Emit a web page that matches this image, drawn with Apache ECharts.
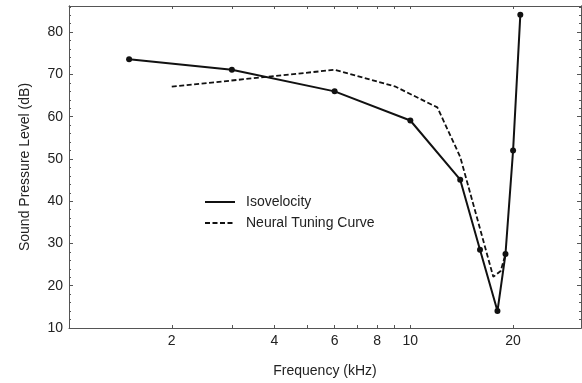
<!DOCTYPE html>
<html>
<head>
<meta charset="utf-8">
<script src="https://cdn.jsdelivr.net/npm/echarts@6/dist/echarts.min.js"></script>
<style>html,body{margin:0;padding:0;background:#fff}#c{width:582px;height:383px}</style>
</head>
<body>
<div id="c"></div>
<script>
// Data (frequency in kHz, level in dB)
const isoFreq = [1.5, 3.0, 6.0, 10.0, 14.0, 16.0, 18.0, 19.0, 20.0, 21.0];
const isoLevel = [73.6, 71.1, 66.0, 59.1, 45.1, 28.5, 14.0, 27.5, 52.0, 84.1];
const ntcFreq = [2.0, 6.0, 9.0, 12.0, 14.0, 17.5, 18.4, 19.0];
const ntcLevel = [67.1, 71.1, 67.2, 62.2, 50.5, 22.1, 23.5, 27.5];
const xLabelValues = [2, 4, 6, 8, 10, 20];
const xTickValues = [2, 3, 4, 5, 6, 7, 8, 9, 10, 20];
const yLabelValues = [10, 20, 30, 40, 50, 60, 70, 80];
const yMinorValues = [12,14,16,18,22,24,26,28,32,34,36,38,42,44,46,48,52,54,56,58,62,64,66,68,72,74,76,78,82,84,86];

const L = v => Math.log10(v);
const font = 'Liberation Sans, Arial, Helvetica, sans-serif';
const axisCol = '#555';

const xMin = 0, xMax = 1.5, yMin = 10, yMax = 86.2;

function xAxisDef(pos, show) {
  return {
    type: 'value', position: pos, min: xMin, max: xMax,
    axisLine: { show: true, onZero: false, lineStyle: { color: axisCol, width: 1 } },
    axisTick: { show: true, inside: true, length: 3, customValues: xTickValues.map(L), lineStyle: { color: axisCol } },
    axisLabel: { show: show, customValues: xLabelValues.map(L), margin: 6,
      formatter: v => String(Math.round(Math.pow(10, v))),
      color: '#222', fontSize: 14, fontFamily: font },
    splitLine: { show: false },
    name: show ? 'Frequency (kHz)' : '', nameLocation: 'middle', nameGap: 36,
    nameTextStyle: { color: '#222', fontSize: 14, fontFamily: font }
  };
}
function yAxisDef(pos, major, show) {
  return {
    type: 'value', position: pos, min: yMin, max: yMax,
    axisLine: { show: true, onZero: false, lineStyle: { color: axisCol, width: 1 } },
    axisTick: { show: true, inside: true, length: major ? 4 : 2,
      customValues: major ? yLabelValues : yMinorValues, lineStyle: { color: axisCol } },
    axisLabel: { show: show, customValues: yLabelValues, margin: 6,
      color: '#222', fontSize: 14, fontFamily: font },
    splitLine: { show: false },
    name: show ? 'Sound Pressure Level (dB)' : '', nameLocation: 'middle', nameGap: 37,
    nameTextStyle: { color: '#222', fontSize: 14, fontFamily: font }
  };
}

const chart = echarts.init(document.getElementById('c'), null, { renderer: 'canvas' });
chart.setOption({
  animation: false,
  backgroundColor: '#fff',
  grid: { left: 69, right: 1, top: 6, bottom: 55, containLabel: false },
  xAxis: [xAxisDef('bottom', true), xAxisDef('top', false)],
  yAxis: [yAxisDef('left', true, true), yAxisDef('left', false, false),
          yAxisDef('right', true, false), yAxisDef('right', false, false)],
  legend: {
    orient: 'vertical', left: 204, top: 195, padding: 0,
    itemWidth: 30, itemHeight: 14, itemGap: 7,
    textStyle: { color: '#222', fontSize: 14, fontFamily: font, padding: [0, 0, 0, 6] },
    itemStyle: { color: 'rgba(0,0,0,0)', borderWidth: 0 },
    data: ['Isovelocity', 'Neural Tuning Curve']
  },
  series: [
    {
      name: 'Isovelocity', type: 'line', xAxisIndex: 0, yAxisIndex: 0,
      data: isoFreq.map((f, i) => [L(f), isoLevel[i]]),
      symbol: 'circle', symbolSize: 6,
      itemStyle: { color: '#111' },
      lineStyle: { color: '#111', width: 2 }, z: 3
    },
    {
      name: 'Neural Tuning Curve', type: 'line', xAxisIndex: 0, yAxisIndex: 0,
      data: ntcFreq.map((f, i) => [L(f), ntcLevel[i]]),
      symbol: 'none', showSymbol: false,
      itemStyle: { color: '#111' },
      lineStyle: { color: '#111', width: 1.8, type: [5, 2.5] }, z: 2
    }
  ]
});
</script>
</body>
</html>
